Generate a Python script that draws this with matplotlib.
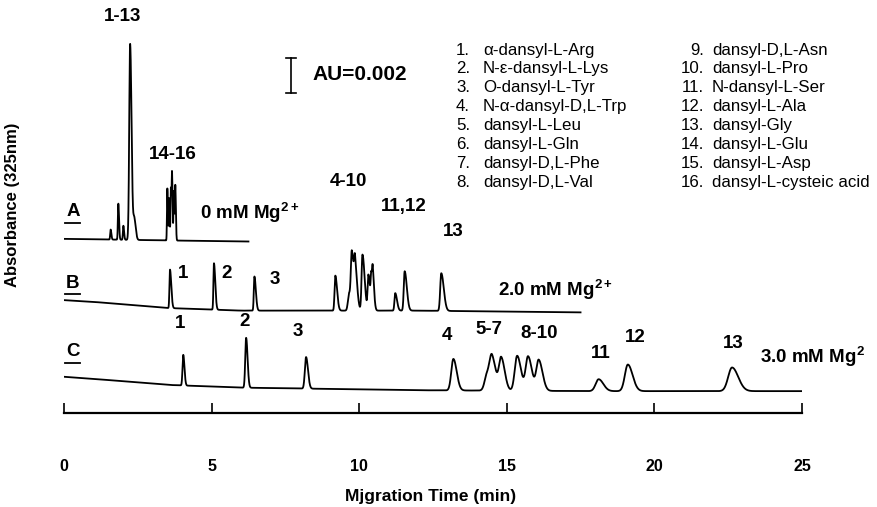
import numpy as np
import matplotlib
matplotlib.use("Agg")
import matplotlib.pyplot as plt

plt.rcParams['font.family'] = ['Liberation Sans', 'DejaVu Sans']
plt.rcParams['mathtext.fontset'] = 'custom'
plt.rcParams['mathtext.rm'] = 'Liberation Sans:bold'
plt.rcParams['mathtext.bf'] = 'Liberation Sans:bold'

# ---------------- data (time in min, heights in mAU) ----------------
# Trace A: 0 mM Mg2+
a_times   = [1.58, 1.84, 2.01, 2.24, 2.38, 3.50, 3.56, 3.62, 3.66, 3.72, 3.77]
a_heights = [0.57, 2.06, 0.80, 11.2, 1.2, 2.97, 2.4, 3.0, 3.6, 2.8, 3.09]
a_sigmas  = [0.015, 0.015, 0.015, 0.03, 0.03, 0.012, 0.012, 0.012, 0.012, 0.012, 0.012]
a_base_t  = [0.0, 2.0, 4.0, 6.25]
a_base_y  = [9.95, 9.9, 9.85, 9.8]

# Trace B: 2.0 mM Mg2+
b_times   = [3.59, 5.08, 6.45, 9.19, 9.66, 9.75, 9.86, 10.11, 10.31, 10.41, 10.46, 11.22, 11.54, 12.78]
b_heights = [2.2, 2.65, 1.95, 2.0, 1.0, 2.8, 2.2, 3.2, 2.0, 1.7, 1.5, 1.0, 2.25, 2.15]
b_sigmas  = [0.018, 0.018, 0.02, 0.025, 0.04, 0.03, 0.03, 0.03, 0.025, 0.02, 0.02, 0.025, 0.03, 0.035]
b_base_t  = [0.0, 1.0, 3.5, 6.0, 12.0, 17.5]
b_base_y  = [6.45, 6.35, 6.0, 5.85, 5.85, 5.75]

# Trace C: 3.0 mM Mg2+
c_times   = [4.04, 6.17, 8.20, 13.19, 14.33, 14.50, 14.81, 15.35, 15.72, 16.08, 18.11, 19.10, 22.63]
c_heights = [1.75, 2.85, 1.8, 1.8, 0.9, 1.7, 1.85, 2.0, 1.95, 1.75, 0.68, 1.52, 1.35]
c_sigmas  = [0.025, 0.03, 0.04, 0.07, 0.08, 0.08, 0.075, 0.08, 0.08, 0.08, 0.1, 0.1, 0.13]
c_base_t  = [0.0, 1.0, 3.6, 6.0, 12.0, 18.0, 25.0]
c_base_y  = [2.07, 1.95, 1.6, 1.45, 1.3, 1.25, 1.25]

peak_labels_B = ["1", "2", "3"]
peak_labels_C = ["1", "2", "3", "4", "5-7", "8-10", "11", "12", "13"]

compounds = ["α-dansyl-L-Arg", "N-ε-dansyl-L-Lys", "O-dansyl-L-Tyr", "N-α-dansyl-D,L-Trp",
             "dansyl-L-Leu", "dansyl-L-Gln", "dansyl-D,L-Phe", "dansyl-D,L-Val",
             "dansyl-D,L-Asn", "dansyl-L-Pro", "N-dansyl-L-Ser", "dansyl-L-Ala",
             "dansyl-Gly", "dansyl-L-Glu", "dansyl-L-Asp", "dansyl-L-cysteic acid"]

x_ticks = [0, 5, 10, 15, 20, 25]

# ---------------- figure ----------------
W, H = 878, 507
fig = plt.figure(figsize=(W / 100, H / 100), dpi=100)
x0px, x1px, axis_px = 64, 802, 413
ax = fig.add_axes([x0px / W, (H - axis_px) / H, (x1px - x0px) / W, axis_px / H])
px2mau = 2.0 / 35.0
ax.set_xlim(0, 25)
ax.set_ylim(0, axis_px * px2mau)


def y_of(px):
    return (axis_px - px) * px2mau


def trace(t_end, times, heights, sigmas, bt, by, tail):
    t = np.arange(0.0, t_end, 0.002)
    y = np.interp(t, bt, by)
    for tc, h, s in zip(times, heights, sigmas):
        sig = np.where(t < tc, s, s * tail)
        y = y + h * np.exp(-0.5 * ((t - tc) / sig) ** 2)
    return t, y


lw = 1.3
for args in [(6.25, a_times, a_heights, a_sigmas, a_base_t, a_base_y, 1.6),
             (17.5, b_times, b_heights, b_sigmas, b_base_t, b_base_y, 2.4),
             (25.0, c_times, c_heights, c_sigmas, c_base_t, c_base_y, 1.6)]:
    t, y = trace(*args)
    ax.plot(t, y, color='black', lw=lw, solid_joinstyle='round')

for s in ['top', 'right', 'left']:
    ax.spines[s].set_visible(False)
ax.spines['bottom'].set_linewidth(1.6)
ax.set_yticks([])
ax.set_xticks(x_ticks)
ax.set_xticklabels([str(v) for v in x_ticks])
ax.tick_params(axis='x', direction='in', length=7, width=1.2, pad=33,
               labelsize=11.5)
for lab in ax.get_xticklabels():
    lab.set_fontweight('bold')

FS = 13.5
bold = dict(fontweight='bold', fontsize=FS, ha='center', va='center')
boldl = dict(fontweight='bold', fontsize=FS, ha='left', va='center')

# trace A labels
ax.text(2.0, y_of(17), "1-13", **bold)
ax.text(3.7, y_of(155), "14-16", **bold)
ax.text(4.6, y_of(213), r"0 mM Mg$^{2+}$", **boldl)
# trace B labels
ax.text(9.65, y_of(181), "4-10", **bold)
ax.text(11.5, y_of(206), "11,12", **bold)
ax.text(13.2, y_of(232), "13", **bold)
ax.text(14.7, y_of(290), r"2.0 mM Mg$^{2+}$", **boldl)
for lab, tx, py in zip(peak_labels_B, [4.03, 5.52, 7.15], [273, 273, 280]):
    ax.text(tx, y_of(py), lab, **bold)
# trace C labels
for lab, tx, py in zip(peak_labels_C,
                       [3.93, 6.1, 7.93, 12.97, 14.4, 16.1, 18.19, 19.35, 22.66],
                       [324, 322, 331, 335, 330, 333, 353, 338, 343]):
    ax.text(tx, y_of(py), lab, **bold)
ax.text(23.58, y_of(357), r"3.0 mM Mg$^{2}$", **boldl)

# A, B, C trace letters (underlined)
for lab, py in zip(["A", "B", "C"], [212, 283, 352]):
    ax.text(0.3, y_of(py), lab, **bold)
    ax.plot([0.05, 0.55], [y_of(py + 11)] * 2, color='black', lw=1.3)

# scale bar
xb = 7.69
ax.plot([xb, xb], [y_of(92.7), y_of(57.7)], color='black', lw=1.2)
ax.plot([xb - 0.17, xb + 0.17], [y_of(57.7)] * 2, color='black', lw=1.2)
ax.plot([xb - 0.17, xb + 0.17], [y_of(92.7)] * 2, color='black', lw=1.2)
ax.text(8.43, y_of(75), "AU=0.002", fontweight='bold', fontsize=15, ha='left', va='center')

# compound list
for i, name in enumerate(compounds):
    col = i // 8
    row = i % 8
    ypx = 50 + 18.9 * row
    xnum = 470 if col == 0 else 704
    xname = 483 if col == 0 else 712
    fig.text(xnum / W, 1 - ypx / H, f"{i + 1}.", fontsize=12.2, ha='right', va='center')
    fig.text(xname / W, 1 - ypx / H, name, fontsize=12.2, ha='left', va='center')

fig.text(13 / W, 1 - 205 / H, "Absorbance (325nm)", rotation=90, fontsize=12,
         fontweight='bold', ha='center', va='center')
fig.text(431 / W, 1 - 497 / H, "Mjgration Time (min)", fontsize=12.5,
         fontweight='bold', ha='center', va='center')

fig.savefig("out.png", dpi=100)
